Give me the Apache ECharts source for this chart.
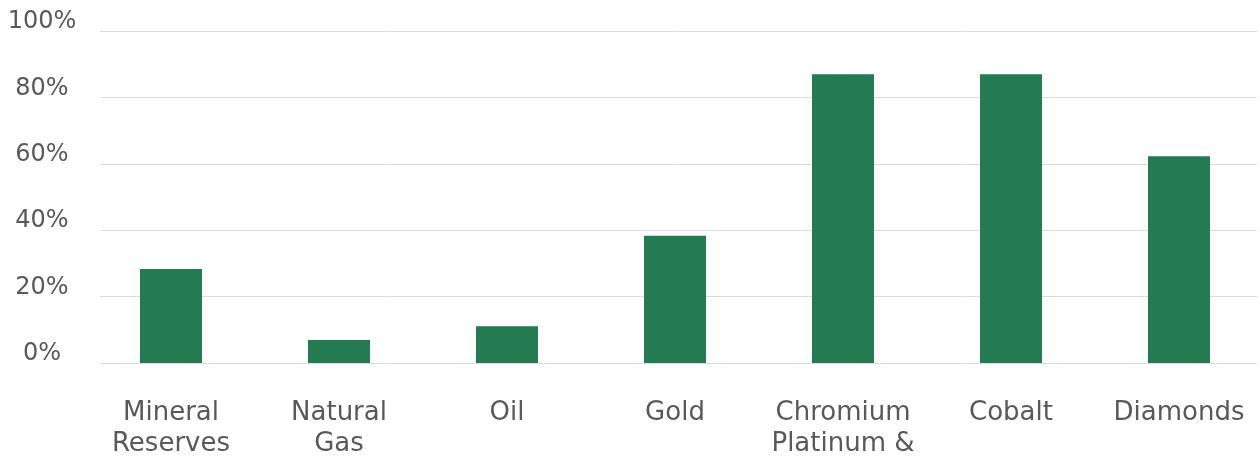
<!DOCTYPE html>
<html>
<head>
<meta charset="utf-8">
<script src="https://cdn.jsdelivr.net/npm/echarts@6/dist/echarts.min.js"></script>
<style>
html,body{margin:0;padding:0;background:#fff;overflow:hidden;}
#chart{width:1263px;height:461px;}
</style>
</head>
<body>
<div id="chart"></div>
<script>
const categories = ['Mineral\nReserves', 'Natural\nGas', 'Oil', 'Gold', 'Chromium\nPlatinum &', 'Cobalt', 'Diamonds'];
const values = [28.3, 6.9, 11.1, 38.3, 87, 87, 62.3];
const yTicks = [0, 20, 40, 60, 80, 100];

const textColor = '#595959';
const font = 'DejaVu Sans';

const chart = echarts.init(document.getElementById('chart'), null, {renderer: 'canvas'});
chart.setOption({
  animation: false,
  backgroundColor: '#ffffff',
  grid: [
    {left: 87, right: 0, top: 31, height: 332, containLabel: false},
    {left: 100, right: 6, top: 31, height: 332, containLabel: false}
  ],
  xAxis: [
    {
      type: 'category', gridIndex: 0, data: categories,
      axisLine: {show: false}, axisTick: {show: false},
      axisLabel: {
        color: textColor, fontFamily: font, fontSize: 26, lineHeight: 31,
        margin: 35, verticalAlign: 'top', interval: 0
      }
    },
    {
      type: 'value', gridIndex: 1, min: 0, max: 1, show: false
    }
  ],
  yAxis: [
    {type: 'value', gridIndex: 0, min: 0, max: 100, show: false, splitLine: {show: false}},
    {
      type: 'value', gridIndex: 1, min: yTicks[0], max: yTicks[yTicks.length - 1], interval: 20,
      axisLine: {show: false}, axisTick: {show: false},
      splitLine: {show: true, lineStyle: {color: '#dcdcdc', width: 1}},
      axisLabel: {
        color: textColor, fontFamily: font, fontSize: 24,
        align: 'center', margin: 58, verticalAlign: 'bottom', lineHeight: 18,
        formatter: v => v + '%'
      }
    }
  ],
  series: [{
    type: 'bar', xAxisIndex: 0, yAxisIndex: 0, data: values,
    barWidth: 62, itemStyle: {color: '#257b51'}, z: 5
  }]
});
</script>
</body>
</html>
